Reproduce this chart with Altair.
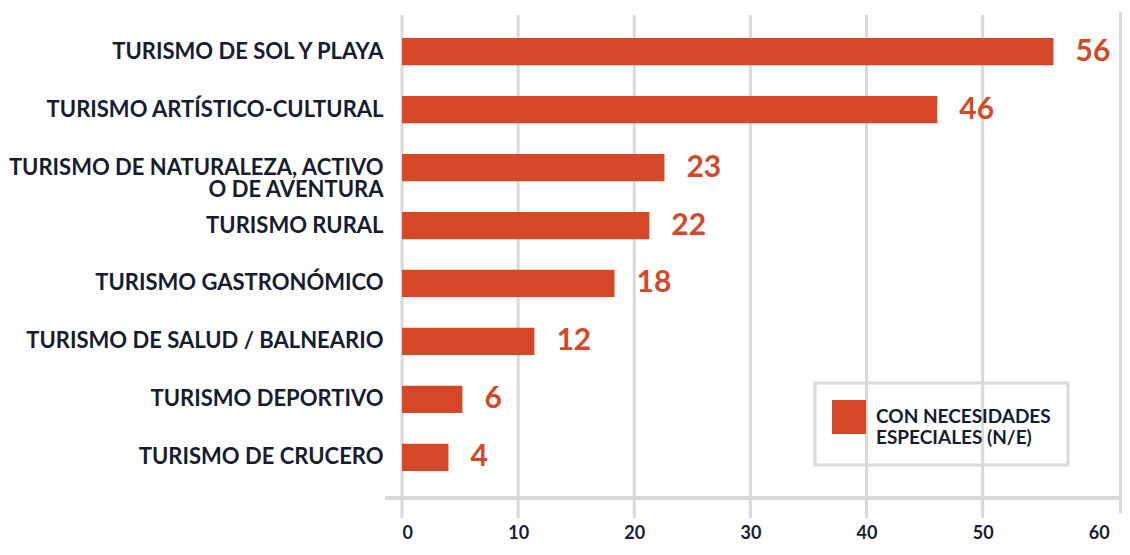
import altair as alt
import pandas as pd

categorias = [
    "TURISMO DE SOL Y PLAYA",
    "TURISMO ARTÍSTICO-CULTURAL",
    "TURISMO DE NATURALEZA, ACTIVO\nO DE AVENTURA",
    "TURISMO RURAL",
    "TURISMO GASTRONÓMICO",
    "TURISMO DE SALUD / BALNEARIO",
    "TURISMO DEPORTIVO",
    "TURISMO DE CRUCERO",
]
valores = [56.1, 46.1, 22.6, 21.3, 18.3, 11.4, 5.2, 4.0]
etiquetas = ["56", "46", "23", "22", "18", "12", "6", "4"]
serie = "CON NECESIDADES\nESPECIALES (N/E)"
ticks_x = [0, 10, 20, 30, 40, 50, 60]
rejilla = [0, 10, 20, 30, 40, 50]

ROJO = "#D44828"
TEXTO = "#171C2E"
GRIS = "#D9D9D9"
FUENTE = "Lato"
W, H = 720, 483

df = pd.DataFrame({"cat": categorias, "valor": valores, "etiqueta": etiquetas, "serie": serie})
df_grid = pd.DataFrame({"g": rejilla})

xscale = alt.Scale(domain=[0, 62], nice=False, zero=True)
yscale = alt.Scale(domain=categorias, paddingInner=0.53, paddingOuter=0.43, align=0.46)

eje_x = alt.Axis(
    values=ticks_x, grid=False, domain=False, ticks=False,
    labelPadding=26, labelFontSize=18, labelFont=FUENTE,
    labelFontWeight="bold", labelColor=TEXTO,
)

grid = alt.Chart(df_grid).mark_rule(color=GRIS, strokeWidth=3).encode(
    x=alt.X("g:Q", scale=xscale, axis=eje_x, title=None),
    y=alt.value(0),
    y2=alt.value(H + 20),
)
borde = alt.Chart(df_grid).mark_rule(color=GRIS, strokeWidth=3).encode(
    x=alt.value(W - 1), y=alt.value(-3), y2=alt.value(H + 15)
)
eje = alt.Chart(df_grid).mark_rule(color=GRIS, strokeWidth=3).encode(
    x=alt.value(-17), x2=alt.value(W + 8), y=alt.value(H)
)

barras = alt.Chart(df).mark_bar(cornerRadius=0).encode(
    x=alt.X("valor:Q", scale=xscale, axis=eje_x, title=None),
    y=alt.Y(
        "cat:N",
        scale=yscale,
        sort=categorias,
        title=None,
        axis=alt.Axis(
            domain=False, ticks=False, grid=False, labelPadding=19,
            labelFontSize=22, labelFont=FUENTE, labelFontWeight="bold",
            labelColor=TEXTO, labelLimit=500, labelLineHeight=22,
            labelExpr="split(datum.label, '\\n')",
        ),
    ),
    color=alt.Color(
        "serie:N",
        scale=alt.Scale(domain=[serie], range=[ROJO]),
        legend=alt.Legend(
            title=None, orient="none", legendX=413, legendY=368,
            strokeColor=GRIS, padding=17, symbolType="square",
            symbolSize=1156, symbolStrokeWidth=0, symbolOpacity=1,
            labelFontSize=19, labelFont=FUENTE, labelFontWeight="bold",
            labelColor=TEXTO, labelLimit=400, labelOffset=10,
            labelExpr="split(datum.label, '\\n')",
        ),
    ),
)

textos = alt.Chart(df).mark_text(
    align="left", baseline="middle", dx=22, fontSize=30, font=FUENTE,
    fontWeight="bold", color=ROJO,
).encode(
    x=alt.X("valor:Q", scale=xscale, axis=eje_x, title=None),
    y=alt.Y("cat:N", scale=yscale, sort=categorias),
    text="etiqueta:N",
)

chart = (
    alt.layer(grid, borde, eje, barras, textos)
    .properties(
        width=W, height=H,
        autosize=alt.AutoSizeParams(type="none"),
        padding={"left": 394, "top": 7, "right": 0, "bottom": 45},
    )
    .configure_view(stroke=None)
    .configure_legend(strokeWidth=3)
)

chart.save("out.html", embed_options={"renderer": "svg", "actions": False})
